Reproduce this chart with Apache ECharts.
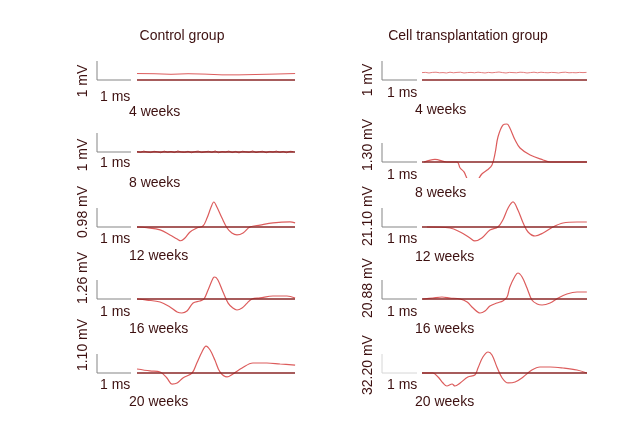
<!DOCTYPE html>
<html><head><meta charset="utf-8">
<script src="https://cdn.jsdelivr.net/npm/echarts@6/dist/echarts.min.js"></script>
<style>html,body{margin:0;padding:0;background:#fff}#c{width:638px;height:441px}</style>
</head><body><div id="c"></div>
<script>
// ---------- DATA (time in ms, amplitude in mV) ----------
const groupTitles = ['Control group', 'Cell transplantation group'];
const weekLabels = ['4 weeks', '8 weeks', '12 weeks', '16 weeks', '20 weeks'];
const ctlScales = [1, 1, 0.98, 1.26, 1.10];
const txScales = [1, 1.30, 21.10, 20.88, 32.20];
const ctlScaleLabels = ['1 mV', '1 mV', '0.98 mV', '1.26 mV', '1.10 mV'];
const txScaleLabels = ['1 mV', '1.30 mV', '21.10 mV', '20.88 mV', '32.20 mV'];
const timeBarLabel = '1 ms';

// Control 4 weeks
const ctl4T = [0, 0.5, 1.0, 1.5, 2.0, 2.5, 3.0, 3.5, 4.0, 4.65];
const ctl4V = [0.34, 0.33, 0.30, 0.33, 0.31, 0.27, 0.27, 0.29, 0.31, 0.34];
// Control 8 weeks (noisy, near zero)
const ctl8T = [0,0.1,0.2,0.3,0.4,0.5,0.6,0.7,0.8,0.9,1.0,1.1,1.2,1.3,1.4,1.5,1.6,1.7,1.8,1.9,2.0,2.1,2.2,2.3,2.4,2.5,2.6,2.7,2.8,2.9,3.0,3.1,3.2,3.3,3.4,3.5,3.6,3.7,3.8,3.9,4.0,4.1,4.2,4.3,4.4,4.5,4.6];
const ctl8V = [0.03,-0.02,0.05,0.00,-0.03,0.04,0.01,-0.04,0.05,-0.01,
  0.03,-0.03,0.06,0.00,-0.02,0.04,-0.04,0.02,0.05,-0.03,
  0.01,0.04,-0.02,0.06,-0.04,0.02,0.00,0.05,-0.03,0.03,
  -0.05,0.04,0.01,-0.02,0.06,-0.03,0.02,0.04,-0.04,0.03,
  0.00,0.05,-0.02,0.03,-0.04,0.04,0.02];
// Control 12 weeks
const ctl12T = [0,0.29,0.68,0.97,1.18,1.29,1.41,1.56,1.76,1.94,2.06,2.18,2.26,2.35,2.50,2.65,2.79,2.94,3.12,3.32,3.62,4.00,4.50,4.65];
const ctl12V = [0,-0.04,-0.15,-0.41,-0.62,-0.71,-0.57,-0.26,-0.05,0.05,0.46,1.03,1.29,1.03,0.46,-0.05,-0.31,-0.41,-0.31,0,0.10,0.21,0.26,0.21];
// Control 16 weeks
const ctl16T = [0,0.29,0.68,0.97,1.18,1.32,1.47,1.65,1.85,1.97,2.09,2.24,2.29,2.38,2.53,2.68,2.82,2.94,3.09,3.24,3.38,3.62,4.00,4.41,4.65];
const ctl16V = [0,-0.07,-0.20,-0.53,-0.86,-0.93,-0.80,-0.27,-0.13,0,0.60,1.39,1.46,1.26,0.46,-0.27,-0.60,-0.73,-0.60,-0.27,0,0.07,0.20,0.20,0.07];
// Control 20 weeks
const ctl20T = [0,0.38,0.68,0.88,1.03,1.18,1.35,1.62,1.76,1.91,2.03,2.15,2.29,2.44,2.65,2.82,3.09,3.41,3.82,4.21,4.65];
const ctl20V = [0.23,0.12,0.06,-0.29,-0.64,-0.58,-0.29,0,0.58,1.22,1.56,1.33,0.75,0.06,-0.23,-0.06,0.29,0.58,0.58,0.52,0.46];

// Transplantation 4 weeks (noisy)
const tx4T = [0,0.1,0.2,0.3,0.4,0.5,0.6,0.7,0.8,0.9,1.0,1.1,1.2,1.3,1.4,1.5,1.6,1.7,1.8,1.9,2.0,2.1,2.2,2.3,2.4,2.5,2.6,2.7,2.8,2.9,3.0,3.1,3.2,3.3,3.4,3.5,3.6,3.7,3.8,3.9,4.0,4.1,4.2,4.3,4.4,4.5,4.6,4.7];
const tx4V = [0.39,0.40,0.37,0.40,0.41,0.38,0.39,0.37,0.41,0.38,
  0.40,0.41,0.37,0.39,0.40,0.38,0.41,0.39,0.37,0.40,
  0.38,0.40,0.42,0.39,0.37,0.40,0.39,0.38,0.41,0.40,
  0.37,0.39,0.41,0.38,0.41,0.39,0.38,0.40,0.39,0.37,
  0.40,0.41,0.38,0.39,0.38,0.40,0.39,0.40];
// Transplantation 8 weeks (trough runs below the panel)
const tx8T = [0.06,0.37,0.71,1.00,1.09,1.20,1.31,1.49,1.60,1.71,1.86,2.00,2.09,2.17,2.31,2.43,2.51,2.66,2.80,3.09,3.46,3.66,4.71];
const tx8V = [0,0.18,0,0,-0.41,-0.68,-1.23,-1.64,-1.23,-0.82,-0.55,-0.21,0.62,1.71,2.53,2.60,2.33,1.50,0.96,0.48,0.14,0,0];
// Transplantation 12 weeks
const tx12T = [0.14,0.80,1.09,1.37,1.51,1.71,1.94,2.17,2.31,2.46,2.60,2.74,2.89,3.03,3.23,3.46,3.74,4.03,4.43,4.71];
const tx12V = [0,-1.11,-5.55,-12.2,-15.5,-12.2,-3.33,0,7.77,21.1,27.8,18.9,4.44,-5.55,-9.99,-6.66,0,4.44,5.55,5.55];
// Transplantation 16 weeks
const tx16T = [0.03,0.31,0.57,0.80,1.09,1.29,1.46,1.66,1.80,1.94,2.14,2.31,2.43,2.51,2.66,2.74,2.86,3.00,3.14,3.29,3.43,3.66,3.89,4.14,4.43,4.71];
const tx16V = [0,1.10,2.20,1.10,0,-3.30,-9.89,-15.4,-13.2,-7.69,-4.40,-2.20,2.20,13.2,25.3,28.6,24.2,12.1,-1.10,-5.50,-6.59,-4.40,1.10,5.50,7.69,7.69];
// Transplantation 20 weeks
const tx20T = [0,0.31,0.46,0.60,0.71,0.86,0.94,1.09,1.31,1.51,1.60,1.74,1.89,2.00,2.14,2.29,2.46,2.66,2.89,3.14,3.37,3.66,4.03,4.43,4.71];
const tx20V = [0,0,-6.78,-16.9,-22.0,-18.6,-22.0,-16.9,-6.78,-3.39,8.47,27.1,35.6,30.5,10.2,-8.47,-16.9,-15.3,-6.78,5.08,10.2,10.2,8.47,5.08,0];

// ---------- LAYOUT / STYLE ----------
const cols = [
  {barX: 97, traceX: 137, endX: 295, pxMs: 34, titleX: 182, msX: 100, wkX: 129, mvX: 83},
  {barX: 382, traceX: 422, endX: 587, pxMs: 35, titleX: 468, msX: 387, wkX: 415, mvX: 368}
];
const barPx = 19;
const panels = [
  {c:0, r:0, t:ctl4T, v:ctl4V, base:80, ms:97, wk:112, mv:81, noise:true},
  {c:0, r:1, t:ctl8T, v:ctl8V, base:152, ms:163, wk:183, mv:155, noise:true},
  {c:0, r:2, t:ctl12T, v:ctl12V, base:227, ms:239, wk:256, mv:212},
  {c:0, r:3, t:ctl16T, v:ctl16V, base:299, ms:312, wk:329, mv:278},
  {c:0, r:4, t:ctl20T, v:ctl20V, base:373, ms:385, wk:402, mv:345},
  {c:1, r:0, t:tx4T, v:tx4V, base:80, ms:93, wk:110, mv:80, noise:true, thin:true},
  {c:1, r:1, t:tx8T, v:tx8V, base:162, ms:175, wk:193, mv:145, below:15.5, clip:true},
  {c:1, r:2, t:tx12T, v:tx12V, base:227, ms:239, wk:257, mv:216},
  {c:1, r:3, t:tx16T, v:tx16V, base:299, ms:312, wk:329, mv:288},
  {c:1, r:4, t:tx20T, v:tx20V, base:373, ms:385, wk:402, mv:365, faintBar:true}
];
const textColor = '#3d1010';
const font = '14px "Liberation Sans", Arial, sans-serif';

const grids = [], xAxes = [], yAxes = [], series = [], graphics = [];
panels.forEach((p, i) => {
  const col = cols[p.c];
  const scale = (p.c === 0 ? ctlScales : txScales)[p.r];
  const label = (p.c === 0 ? ctlScaleLabels : txScaleLabels)[p.r];
  const above = 42, below = p.below || 22;
  const xmin = -(col.traceX - col.barX) / col.pxMs;
  const xmax = (col.endX - col.traceX) / col.pxMs;
  grids.push({left: col.barX, width: col.endX - col.barX, top: p.base - above, height: above + below});
  xAxes.push({type: 'value', gridIndex: i, min: xmin, max: xmax, show: false});
  yAxes.push({type: 'value', gridIndex: i, min: -below / barPx * scale, max: above / barPx * scale, show: false});
  // scale bar: vertical = scale value, horizontal = 1 ms
  series.push({type: 'line', xAxisIndex: i, yAxisIndex: i, symbol: 'none', silent: true, clip: false,
    data: [[xmin, scale], [xmin, 0], [xmin + 1, 0]],
    lineStyle: {color: p.faintBar ? '#d6d6d6' : '#858585', width: 1}});
  // trace
  series.push({type: 'line', xAxisIndex: i, yAxisIndex: i, symbol: 'none', silent: true,
    clip: !!p.clip, smooth: p.noise ? false : 0.35,
    data: p.t.map((tt, k) => [tt, p.v[k]]),
    lineStyle: {color: '#dc5c5c', width: p.thin ? 0.8 : (p.noise ? 1 : 1.2)}});
  // zero baseline
  series.push({type: 'line', xAxisIndex: i, yAxisIndex: i, symbol: 'none', silent: true, clip: false,
    data: [[0, 0], [xmax, 0]],
    lineStyle: {color: '#8a2626', width: 1.4}});
  graphics.push({type: 'text', x: col.msX, y: p.ms, style: {text: timeBarLabel, font, fill: textColor, textAlign: 'left', textVerticalAlign: 'middle'}});
  graphics.push({type: 'text', x: col.wkX, y: p.wk, style: {text: weekLabels[p.r], font, fill: textColor, textAlign: 'left', textVerticalAlign: 'middle'}});
  graphics.push({type: 'text', x: col.mvX, y: p.mv, rotation: Math.PI / 2, style: {text: label, font, fill: textColor, textAlign: 'center', textVerticalAlign: 'middle'}});
});
cols.forEach((col, c) => {
  graphics.push({type: 'text', x: col.titleX, y: 36, style: {text: groupTitles[c], font, fill: textColor, textAlign: 'center', textVerticalAlign: 'middle'}});
});

const chart = echarts.init(document.getElementById('c'), null, {renderer: 'canvas'});
chart.setOption({
  animation: false,
  backgroundColor: '#ffffff',
  grid: grids, xAxis: xAxes, yAxis: yAxes, series, graphic: graphics
});
</script></body></html>
